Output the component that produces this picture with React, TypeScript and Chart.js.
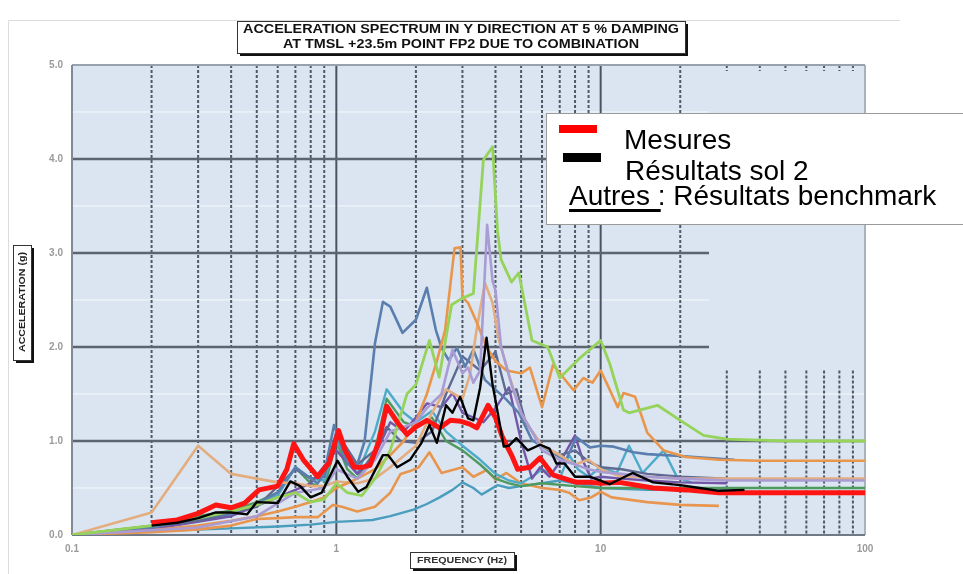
import React, { useEffect, useRef } from 'react';
import { Chart, registerables } from 'chart.js';
Chart.register(...registerables);

// ---------- axis ticks ----------
const xTickValues = [0.1, 1, 10, 100];
const xTickLabels = ['0.1', '1', '10', '100'];
const yTickValues = [0, 1, 2, 3, 4, 5];
const yTickLabels = ['0.0', '1.0', '2.0', '3.0', '4.0', '5.0'];

// ---------- grid ----------
const minorFreqs = [0.2, 0.3, 0.4, 0.5, 0.6, 0.7, 0.8, 0.9, 2, 3, 4, 5, 6, 7, 8, 9, 20];
const partialFreqs = [30, 40, 50, 60, 70, 80, 90];
const decadeFreqs = [1, 10];
const majorFull = [1];
const majorPartial = [2, 3, 4];
const halfFull = [0.5, 1.5];
const halfPartial = [2.5, 3.5, 4.5];
const gridCutFreq = 25.7;
const partialTopValue = 1.75;

// ---------- texts ----------
const titleLines = ['ACCELERATION SPECTRUM IN Y DIRECTION AT 5 % DAMPING', 'AT TMSL +23.5m POINT FP2 DUE TO COMBINATION'];
const yTitle = 'ACCELERATION (g)';
const xTitle = 'FREQUENCY (Hz)';
const legendMesures = 'Mesures';
const legendSol2 = 'Résultats sol 2';
const legendAutres = 'Autres ';
const legendBench = ': Résultats benchmark';

// ---------- series ----------
const redFreqs = [0.2, 0.25, 0.3, 0.35, 0.4, 0.45, 0.51, 0.6, 0.65, 0.69, 0.75, 0.85, 0.94, 1.02, 1.08, 1.17, 1.25, 1.34, 1.45, 1.55, 1.7, 1.85, 2.0, 2.2, 2.46, 2.7, 2.96, 3.2, 3.4, 3.75, 4.0, 4.25, 4.6, 4.85, 5.4, 5.9, 6.6, 7.3, 8.1, 9, 10, 11.8, 15.8, 21, 28, 40, 60, 100];
const redValues = [0.13, 0.16, 0.23, 0.32, 0.29, 0.34, 0.48, 0.52, 0.7, 0.97, 0.8, 0.62, 0.77, 1.11, 0.9, 0.72, 0.72, 0.74, 1.0, 1.37, 1.2, 1.07, 1.15, 1.22, 1.14, 1.22, 1.21, 1.18, 1.14, 1.38, 1.25, 1.04, 0.85, 0.7, 0.72, 0.82, 0.64, 0.6, 0.56, 0.56, 0.55, 0.56, 0.5, 0.48, 0.45, 0.45, 0.45, 0.45];

const blackFreqs = [0.2, 0.25, 0.3, 0.35, 0.4, 0.46, 0.5, 0.6, 0.67, 0.73, 0.8, 0.88, 1.01, 1.1, 1.21, 1.3, 1.5, 1.57, 1.7, 1.9, 2.1, 2.25, 2.4, 2.6, 2.75, 2.94, 3.15, 3.3, 3.5, 3.7, 3.9, 4.05, 4.3, 4.5, 4.8, 5.3, 5.9, 6.4, 6.8, 7.3, 8, 9.1, 10.8, 13.2, 15.8, 20, 23.7, 28, 35];
const blackValues = [0.1, 0.13, 0.18, 0.24, 0.24, 0.22, 0.35, 0.34, 0.57, 0.52, 0.4, 0.45, 0.79, 0.62, 0.46, 0.51, 0.85, 0.85, 0.72, 0.8, 0.98, 1.17, 0.98, 1.38, 1.3, 1.47, 1.24, 1.22, 1.57, 2.1, 1.6, 1.35, 0.94, 0.95, 1.03, 0.9, 0.96, 0.92, 0.76, 0.76, 0.62, 0.62, 0.54, 0.66, 0.56, 0.53, 0.5, 0.47, 0.48];

const lightGreenFreqs = [0.1, 0.2, 0.3, 0.4, 0.5, 0.6, 0.7, 0.8, 0.9, 1.0, 1.1, 1.25, 1.4, 1.6, 1.85, 2.0, 2.25, 2.45, 2.73, 3.0, 3.3, 3.6, 3.9, 4.07, 4.2, 4.6, 4.9, 5.5, 6.3, 7.0, 8.4, 10, 10.8, 12.2, 12.8, 16.4, 20, 24.5, 30, 50, 100];
const lightGreenValues = [0.0, 0.1, 0.18, 0.25, 0.32, 0.4, 0.45, 0.35, 0.38, 0.55, 0.45, 0.42, 0.6, 0.9, 1.5, 1.6, 2.07, 1.68, 2.45, 2.52, 2.57, 3.99, 4.13, 3.24, 2.93, 2.69, 2.79, 2.07, 2.0, 1.67, 1.89, 2.07, 1.83, 1.33, 1.3, 1.38, 1.22, 1.06, 1.02, 1.0, 1.0];

const orangeFreqs = [0.1, 0.2, 0.3, 0.4, 0.5, 0.6, 0.7, 0.8, 0.9, 1.0, 1.1, 1.2, 1.4, 1.6, 1.8, 2.0, 2.2, 2.4, 2.58, 2.8, 2.95, 3.0, 3.15, 3.4, 3.7, 4.0, 4.4, 5.0, 5.4, 6.0, 6.6, 7.9, 8.6, 9.3, 10, 10.6, 11.6, 12.2, 13.5, 15, 17.3, 21, 28, 40, 100];
const orangeValues = [0, 0.05, 0.1, 0.15, 0.2, 0.25, 0.3, 0.35, 0.4, 0.5, 0.55, 0.6, 0.7, 0.85, 1.0, 1.2, 1.5, 1.85, 2.18, 3.05, 3.06, 2.53, 2.47, 2.26, 2.0, 1.85, 1.75, 1.72, 1.78, 1.36, 1.81, 1.54, 1.67, 1.62, 1.75, 1.6, 1.36, 1.51, 1.47, 1.09, 0.9, 0.83, 0.8, 0.79, 0.79];

const peachFreqs = [0.1, 0.2, 0.3, 0.4, 0.5, 0.6, 0.7, 0.8, 0.9, 1.0, 1.2, 1.4, 1.6, 2.0, 2.3, 2.6, 3.0, 3.2, 3.4, 3.65, 3.9, 4.1, 4.5, 5.0, 5.5, 6.0, 7, 8, 9, 10, 12, 15, 20, 30, 100];
const peachValues = [0, 0.24, 0.95, 0.65, 0.6, 0.56, 0.55, 0.52, 0.52, 0.57, 0.55, 0.6, 0.72, 0.95, 1.3, 1.55, 1.45, 1.7, 2.2, 2.68, 2.47, 2.1, 1.7, 1.3, 1.1, 0.95, 0.85, 0.75, 0.8, 0.7, 0.62, 0.62, 0.6, 0.6, 0.6];

const steelFreqs = [0.1, 0.2, 0.3, 0.4, 0.5, 0.6, 0.7, 0.8, 0.85, 0.9, 0.98, 1.1, 1.2, 1.28, 1.4, 1.5, 1.6, 1.78, 2.0, 2.2, 2.38, 2.5, 2.66, 2.86, 3.07, 3.3, 3.65, 4.4, 4.9, 5.5, 6.6, 7.4, 8.1, 9.1, 10, 11.2, 13.3, 15, 20, 32];
const steelValues = [0, 0.08, 0.18, 0.24, 0.33, 0.45, 0.72, 0.6, 0.55, 0.65, 1.17, 0.75, 0.75, 1.0, 2.04, 2.48, 2.43, 2.15, 2.29, 2.63, 2.18, 1.99, 1.86, 1.99, 1.79, 1.97, 1.65, 1.44, 1.3, 1.01, 0.87, 0.8, 1.04, 0.93, 0.95, 0.94, 0.88, 0.86, 0.84, 0.8];

const lavenderFreqs = [0.1, 0.3, 0.5, 0.7, 0.9, 1.0, 1.2, 1.4, 1.6, 1.8, 2.0, 2.2, 2.5, 2.75, 3.0, 3.15, 3.3, 3.5, 3.72, 3.9, 4.0, 4.2, 4.6, 5.0, 5.5, 6, 7, 8, 9, 10, 12, 15, 20, 30, 100];
const lavenderValues = [0, 0.08, 0.2, 0.45, 0.5, 0.7, 0.6, 0.8, 1.1, 1.15, 1.2, 1.35, 1.5, 1.97, 1.72, 1.78, 1.62, 1.75, 3.3, 2.7, 2.6, 2.0, 1.6, 1.3, 1.1, 0.9, 0.8, 0.75, 0.7, 0.67, 0.65, 0.62, 0.6, 0.58, 0.58];

const tealFreqs = [0.1, 0.2, 0.4, 0.6, 0.8, 1.0, 1.2, 1.37, 1.6, 1.96, 2.2, 2.46, 2.75, 3.0, 3.3, 3.55, 3.8, 4.07, 4.5, 5, 6, 7, 8, 10, 15, 20, 30];
const tealValues = [0, 0.04, 0.07, 0.09, 0.11, 0.14, 0.15, 0.16, 0.2, 0.27, 0.33, 0.4, 0.48, 0.56, 0.5, 0.43, 0.48, 0.53, 0.5, 0.52, 0.55, 0.58, 0.55, 0.5, 0.48, 0.48, 0.5];

const cyanFreqs = [0.1, 0.2, 0.4, 0.6, 0.7, 0.8, 0.9, 1.0, 1.2, 1.4, 1.55, 1.8, 2.0, 2.3, 2.6, 3.0, 3.5, 4.0, 4.5, 5.0, 5.5, 6.0, 7.0, 7.6, 8.2, 9.0, 10, 11.5, 12.8, 14.4, 17.3, 19.5, 22];
const cyanValues = [0, 0.08, 0.22, 0.42, 0.72, 0.6, 0.58, 1.0, 0.65, 1.1, 1.55, 1.3, 1.2, 1.32, 1.1, 0.95, 0.8, 0.65, 0.58, 0.55, 0.62, 0.7, 0.6, 0.85, 0.7, 0.62, 0.72, 0.66, 0.95, 0.66, 0.9, 0.61, 0.56];

const purpleFreqs = [0.1, 0.2, 0.4, 0.6, 0.8, 1.0, 1.2, 1.4, 1.6, 1.8, 2.0, 2.2, 2.5, 2.75, 3.0, 3.3, 3.6, 4.0, 4.5, 5.0, 5.5, 5.9, 6.4, 7.1, 8.0, 8.6, 9.2, 10, 12, 15, 20, 30];
const purpleValues = [0, 0.06, 0.2, 0.4, 0.55, 0.9, 0.65, 0.85, 1.2, 1.1, 1.25, 1.4, 1.36, 1.51, 1.3, 1.25, 1.2, 1.35, 1.57, 1.0, 0.6, 0.72, 0.62, 0.8, 1.06, 0.78, 0.6, 0.62, 0.6, 0.58, 0.56, 0.55];

const lowOrangeFreqs = [0.1, 0.2, 0.3, 0.4, 0.5, 0.6, 0.7, 0.85, 0.97, 1.05, 1.2, 1.4, 1.6, 1.75, 1.9, 2.05, 2.25, 2.5, 3.0, 3.3, 3.7, 4.0, 4.4, 5, 6, 7, 7.6, 8.3, 9.2, 10, 11, 15, 20, 28];
const lowOrangeValues = [0, 0.03, 0.06, 0.1, 0.17, 0.18, 0.19, 0.19, 0.32, 0.3, 0.25, 0.3, 0.45, 0.65, 0.68, 0.72, 0.88, 0.66, 0.72, 0.62, 0.69, 0.59, 0.66, 0.55, 0.5, 0.48, 0.45, 0.37, 0.4, 0.46, 0.4, 0.35, 0.32, 0.31];

const navyFreqs = [0.1, 0.3, 0.5, 0.7, 0.8, 0.9, 1.0, 1.2, 1.4, 1.55, 1.75, 2.0, 2.3, 2.6, 3.0, 3.5, 4.0, 4.4, 4.8, 5.2, 6, 7, 8, 9, 10, 12, 15, 20, 30];
const navyValues = [0, 0.15, 0.3, 0.7, 0.6, 0.62, 1.1, 0.75, 0.9, 1.15, 1.0, 0.98, 1.1, 1.5, 1.9, 1.75, 1.95, 1.5, 1.55, 1.2, 0.95, 0.85, 0.9, 0.78, 0.72, 0.7, 0.65, 0.62, 0.6];

const greenFreqs = [0.1, 0.2, 0.3, 0.4, 0.5, 0.6, 0.7, 0.8, 0.9, 1.0, 1.1, 1.2, 1.4, 1.55, 1.8, 2.0, 2.3, 2.6, 3.0, 3.5, 4.0, 4.5, 5, 6, 8, 10, 15, 20, 30, 50, 100];
const greenValues = [0, 0.1, 0.2, 0.26, 0.35, 0.45, 0.72, 0.55, 0.5, 1.0, 0.7, 0.6, 0.9, 1.45, 1.2, 1.15, 1.25, 1.0, 0.9, 0.75, 0.6, 0.55, 0.52, 0.55, 0.52, 0.5, 0.5, 0.5, 0.5, 0.5, 0.5];

function pts(f: number[], v: number[]) {
  return f.map((x, i) => ({ x, y: v[i] }));
}

function line(label: string, f: number[], v: number[], color: string, width: number) {
  return {
    label,
    data: pts(f, v),
    borderColor: color,
    backgroundColor: color,
    borderWidth: width,
    borderJoinStyle: 'round' as const,
    pointRadius: 0,
    tension: 0,
    fill: false,
  };
}

function fitText(ctx: CanvasRenderingContext2D, text: string, cx: number, cy: number, width: number) {
  const m = ctx.measureText(text).width;
  ctx.save();
  ctx.translate(cx, cy);
  ctx.scale(width / m, 1);
  ctx.textAlign = 'center';
  ctx.textBaseline = 'middle';
  ctx.fillText(text, 0, 0);
  ctx.restore();
}

function shadowBox(ctx: CanvasRenderingContext2D, x: number, y: number, w: number, h: number) {
  ctx.fillStyle = '#111';
  ctx.fillRect(x + 3, y + 3, w, h);
  ctx.fillStyle = '#fff';
  ctx.fillRect(x, y, w, h);
  ctx.strokeStyle = '#333';
  ctx.lineWidth = 1;
  ctx.strokeRect(x + 0.5, y + 0.5, w, h);
}

const gridPlugin = {
  id: 'customGrid',
  beforeDatasetsDraw(chart: any) {
    const { ctx, chartArea: a, scales } = chart;
    const xs = scales.x, ys = scales.y;
    const X = (f: number) => xs.getPixelForValue(f);
    const Y = (v: number) => ys.getPixelForValue(v);
    const cut = X(gridCutFreq);
    ctx.save();
    ctx.fillStyle = '#dae5f1';
    ctx.fillRect(a.left, a.top, a.right - a.left, a.bottom - a.top);
    ctx.strokeStyle = '#f4f8fc';
    ctx.lineWidth = 1;
    halfFull.forEach((v) => { ctx.beginPath(); ctx.moveTo(a.left, Y(v)); ctx.lineTo(a.right, Y(v)); ctx.stroke(); });
    halfPartial.forEach((v) => { ctx.beginPath(); ctx.moveTo(a.left, Y(v)); ctx.lineTo(cut, Y(v)); ctx.stroke(); });
    ctx.strokeStyle = '#4e5967';
    ctx.lineWidth = 2;
    ctx.setLineDash([3, 2]);
    minorFreqs.forEach((f) => { ctx.beginPath(); ctx.moveTo(X(f), a.top); ctx.lineTo(X(f), a.bottom); ctx.stroke(); });
    partialFreqs.forEach((f) => {
      ctx.beginPath(); ctx.moveTo(X(f), Y(partialTopValue)); ctx.lineTo(X(f), a.bottom); ctx.stroke();
      ctx.beginPath(); ctx.moveTo(X(f), a.top); ctx.lineTo(X(f), a.top + 6); ctx.stroke();
    });
    ctx.setLineDash([]);
    ctx.strokeStyle = '#4a5361';
    ctx.lineWidth = 2;
    decadeFreqs.forEach((f) => { ctx.beginPath(); ctx.moveTo(X(f), a.top); ctx.lineTo(X(f), a.bottom); ctx.stroke(); });
    ctx.strokeStyle = '#5c646f';
    ctx.lineWidth = 2.5;
    majorFull.forEach((v) => { ctx.beginPath(); ctx.moveTo(a.left, Y(v)); ctx.lineTo(a.right, Y(v)); ctx.stroke(); });
    majorPartial.forEach((v) => { ctx.beginPath(); ctx.moveTo(a.left, Y(v)); ctx.lineTo(cut, Y(v)); ctx.stroke(); });
    ctx.lineWidth = 2;
    ctx.strokeStyle = '#a9b3be';
    ctx.beginPath(); ctx.moveTo(a.right, a.top); ctx.lineTo(a.right, a.bottom); ctx.stroke();
    ctx.strokeStyle = '#97a2ae';
    ctx.beginPath(); ctx.moveTo(a.left, a.top); ctx.lineTo(a.right, a.top); ctx.stroke();
    ctx.strokeStyle = '#7f8a97';
    ctx.beginPath(); ctx.moveTo(a.left, a.top); ctx.lineTo(a.left, a.bottom); ctx.stroke();
    ctx.strokeStyle = '#6f7986';
    ctx.beginPath(); ctx.moveTo(a.left, a.bottom); ctx.lineTo(a.right, a.bottom); ctx.stroke();
    ctx.restore();
  },
  afterDraw(chart: any) {
    const { ctx } = chart;
    ctx.save();
    ctx.strokeStyle = '#dcdcdc';
    ctx.lineWidth = 1;
    ctx.beginPath(); ctx.moveTo(8.5, 574); ctx.lineTo(8.5, 20.5); ctx.lineTo(900, 20.5); ctx.stroke();

    shadowBox(ctx, 237, 21, 448, 32);
    ctx.fillStyle = '#111';
    ctx.font = "bold 12px 'Liberation Sans'";
    fitText(ctx, titleLines[0], 461, 30, 436);
    fitText(ctx, titleLines[1], 461, 45, 356);

    shadowBox(ctx, 13, 245, 18, 115);
    ctx.fillStyle = '#222';
    ctx.font = "bold 9px 'Liberation Sans'";
    ctx.save();
    ctx.translate(22.5, 302);
    ctx.rotate(-Math.PI / 2);
    fitText(ctx, yTitle, 0, 0, 100);
    ctx.restore();

    shadowBox(ctx, 410, 552, 104, 16);
    ctx.fillStyle = '#333';
    ctx.font = "bold 9px 'Liberation Sans'";
    fitText(ctx, xTitle, 462, 560.5, 90);

    ctx.fillStyle = '#fff';
    ctx.fillRect(546, 113, 430, 112);
    ctx.strokeStyle = '#9a9a9a';
    ctx.lineWidth = 1;
    ctx.strokeRect(546.5, 113.5, 430, 111);
    ctx.fillStyle = '#ff0000';
    ctx.fillRect(559, 125, 38, 8);
    ctx.fillStyle = '#000';
    ctx.fillRect(563, 153, 38, 9);
    ctx.font = "28px 'Liberation Sans'";
    ctx.textAlign = 'left';
    ctx.textBaseline = 'alphabetic';
    ctx.fillStyle = '#000';
    ctx.fillText(legendMesures, 624, 149);
    ctx.fillText(legendSol2, 625, 180);
    ctx.fillText(legendAutres, 569, 205);
    const wA = ctx.measureText(legendAutres).width;
    ctx.fillText(legendBench, 569 + wA, 205);
    ctx.fillRect(569, 209, wA + 3, 3);
    ctx.restore();
  },
};

export default function App() {
  const ref = useRef<HTMLCanvasElement>(null);
  useEffect(() => {
    const tickFont = { family: "'Liberation Sans'", size: 10, weight: 'bold' as const };
    const chart = new Chart(ref.current as HTMLCanvasElement, {
      type: 'line',
      data: {
        datasets: [
          line('Résultats sol 2', blackFreqs, blackValues, '#000000', 2.4),
          line('Mesures', redFreqs, redValues, '#ff1414', 5),
          line('bench-lightgreen', lightGreenFreqs, lightGreenValues, '#95d35a', 2.8),
          line('bench-lavender', lavenderFreqs, lavenderValues, '#a99bd3', 2.6),
          line('bench-orange', orangeFreqs, orangeValues, '#e9964d', 2.6),
          line('bench-peach', peachFreqs, peachValues, '#e3ad80', 2.6),
          line('bench-steel', steelFreqs, steelValues, '#5a7fae', 2.6),
          line('bench-navy', navyFreqs, navyValues, '#5f6a92', 2.4),
          line('bench-purple', purpleFreqs, purpleValues, '#7456a8', 2.4),
          line('bench-cyan', cyanFreqs, cyanValues, '#4daac9', 2.4),
          line('bench-green', greenFreqs, greenValues, '#4f9a5e', 2.4),
          line('bench-loworange', lowOrangeFreqs, lowOrangeValues, '#e8964f', 2.6),
          line('bench-teal', tealFreqs, tealValues, '#4a9dbd', 2.4),
        ],
      },
      options: {
        animation: false,
        responsive: true,
        maintainAspectRatio: false,
        layout: { padding: { left: 0, right: 98, top: 65, bottom: 0 } },
        plugins: { legend: { display: false }, title: { display: false }, tooltip: { enabled: false } },
        scales: {
          x: {
            type: 'logarithmic',
            min: 0.1,
            max: 100,
            afterBuildTicks: (s: any) => { s.ticks = xTickValues.map((v) => ({ value: v })); },
            afterFit: (s: any) => { s.height = 39; },
            grid: { display: false, drawTicks: false },
            border: { display: false },
            ticks: {
              autoSkip: false,
              maxRotation: 0,
              padding: 8,
              color: '#9a9a9a',
              font: tickFont,
              callback: (_v: any, i: number) => xTickLabels[i],
            },
          },
          y: {
            type: 'linear',
            min: 0,
            max: 5,
            afterBuildTicks: (s: any) => { s.ticks = yTickValues.map((v) => ({ value: v })); },
            afterFit: (s: any) => { s.width = 72; },
            grid: { display: false, drawTicks: false },
            border: { display: false },
            ticks: {
              padding: 9,
              color: '#9a9a9a',
              font: tickFont,
              callback: (_v: any, i: number) => yTickLabels[i],
            },
          },
        },
      } as any,
      plugins: [gridPlugin],
    });
    return () => chart.destroy();
  }, []);
  return (
    <div style={{ position: 'fixed', left: 0, top: 0, width: 963, height: 574, background: '#fff' }}>
      <canvas ref={ref} />
    </div>
  );
}
